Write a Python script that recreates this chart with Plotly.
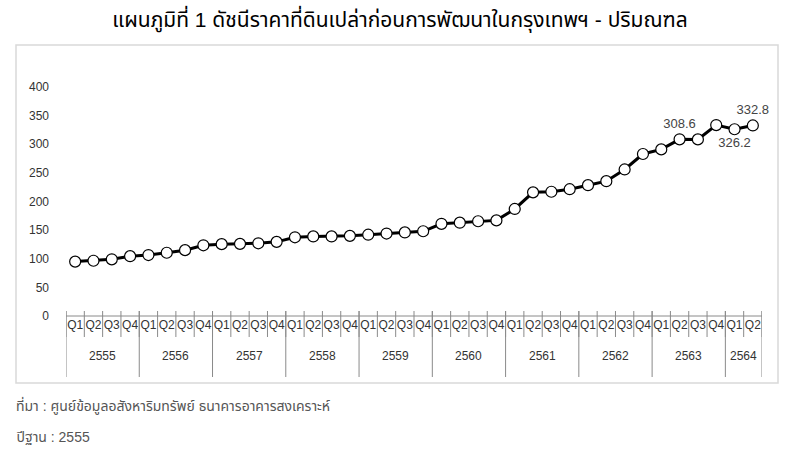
import plotly.graph_objects as go

years = ["2555", "2556", "2557", "2558", "2559", "2560", "2561", "2562", "2563", "2564"]
quarters_per_year = [4, 4, 4, 4, 4, 4, 4, 4, 4, 2]
quarter_names = ["Q1", "Q2", "Q3", "Q4"]

index_values = [
    95, 96.5, 99, 104.5,
    106.5, 110.5, 115, 123.5,
    125.5, 126, 127, 129.5,
    137.5, 139, 139, 140,
    142, 144, 146, 148,
    161, 163, 165.5, 167,
    187, 216, 217, 221.5,
    228.5, 235.5, 256, 283,
    291, 308.6, 308.5, 333.5,
    326.2, 332.8,
]
label_values = {33: "308.6", 36: "326.2", 37: "332.8"}
label_pos = {33: "top center", 36: "bottom center", 37: "top center"}

title_text = "แผนภูมิที่ 1 ดัชนีราคาที่ดินเปล่าก่อนการพัฒนาในกรุงเทพฯ - ปริมณฑล"
source_text = "ที่มา : ศูนย์ข้อมูลอสังหาริมทรัพย์ ธนาคารอาคารสงเคราะห์"
base_text = "ปีฐาน : 2555"

q_labels = []
for n in quarters_per_year:
    q_labels += quarter_names[:n]
xs = list(range(len(index_values)))

texts = [label_values.get(i, "") for i in xs]
tpos = [label_pos.get(i, "top center") for i in xs]

FONT = "Liberation Sans, Arial, Noto Sans Thai, sans-serif"

fig = go.Figure()
fig.add_trace(go.Scatter(
    x=xs, y=index_values, mode="lines+markers+text",
    line=dict(color="black", width=3),
    marker=dict(size=11, color="white", line=dict(color="black", width=1.2)),
    text=texts, textposition=tpos,
    textfont=dict(family=FONT, size=13, color="#444"),
    cliponaxis=False, hoverinfo="x+y", showlegend=False,
))

W, H = 800, 450
ml, mr, mt, mb = 66, 38, 87, 134
pw, ph = W - ml - mr, H - mt - mb

def py(pix):
    return (H - mb - pix) / ph

def px(pix):
    return (pix - ml) / pw

shapes = []
line_col = "#8a8a8a"
shapes.append(dict(type="line", xref="x", yref="paper", x0=-0.5, x1=len(xs) - 0.5,
                   y0=0, y1=0, line=dict(color=line_col, width=1)))
for b in range(len(xs) + 1):
    shapes.append(dict(type="line", xref="x", yref="paper", x0=b - 0.5, x1=b - 0.5,
                       y0=py(337), y1=py(311), line=dict(color=line_col, width=1)))
annotations = []
start = 0
bounds = [0]
for y, n in zip(years, quarters_per_year):
    annotations.append(dict(x=start + (n - 1) / 2, y=py(356), xref="x", yref="paper",
                            text=y, showarrow=False, yanchor="middle",
                            font=dict(family=FONT, size=12, color="#333")))
    start += n
    bounds.append(start)
for b in bounds:
    shapes.append(dict(type="line", xref="x", yref="paper", x0=b - 0.5, x1=b - 0.5,
                       y0=py(377), y1=py(311), line=dict(color=line_col, width=1)))
shapes.append(dict(type="rect", xref="paper", yref="paper", x0=px(16), x1=px(778),
                   y0=py(383), y1=py(45), line=dict(color="#d9d9d9", width=1.5),
                   layer="below"))

annotations.append(dict(x=px(14), y=py(405), xref="paper", yref="paper", text=source_text,
                        showarrow=False, xanchor="left", yanchor="middle",
                        font=dict(family=FONT, size=14, color="#555")))
annotations.append(dict(x=px(14), y=py(437), xref="paper", yref="paper", text=base_text,
                        showarrow=False, xanchor="left", yanchor="middle",
                        font=dict(family=FONT, size=14, color="#555")))

fig.update_layout(
    width=W, height=H,
    margin=dict(l=ml, r=mr, t=mt, b=mb),
    paper_bgcolor="white", plot_bgcolor="white",
    title=dict(text=title_text, x=0.5, xanchor="center", y=1 - 20 / H, yanchor="middle",
               xref="container", yref="container",
               font=dict(family=FONT, size=21, color="#000")),
    xaxis=dict(range=[-0.5, len(xs) - 0.5], tickmode="array", tickvals=xs, ticktext=q_labels,
               tickangle=0, automargin=False,
               showgrid=False, zeroline=False, showline=False, ticks="",
               tickfont=dict(family=FONT, size=12, color="#333")),
    yaxis=dict(range=[0, 400], tickvals=[0, 50, 100, 150, 200, 250, 300, 350, 400],
               showgrid=False, zeroline=False, showline=False, ticks="",
               ticklabelstandoff=16, automargin=False,
               tickfont=dict(family=FONT, size=12, color="#333")),
    shapes=shapes, annotations=annotations,
)
fig.write_html("out.html", config={"displayModeBar": False},
               post_script="document.body.style.margin='0';")
